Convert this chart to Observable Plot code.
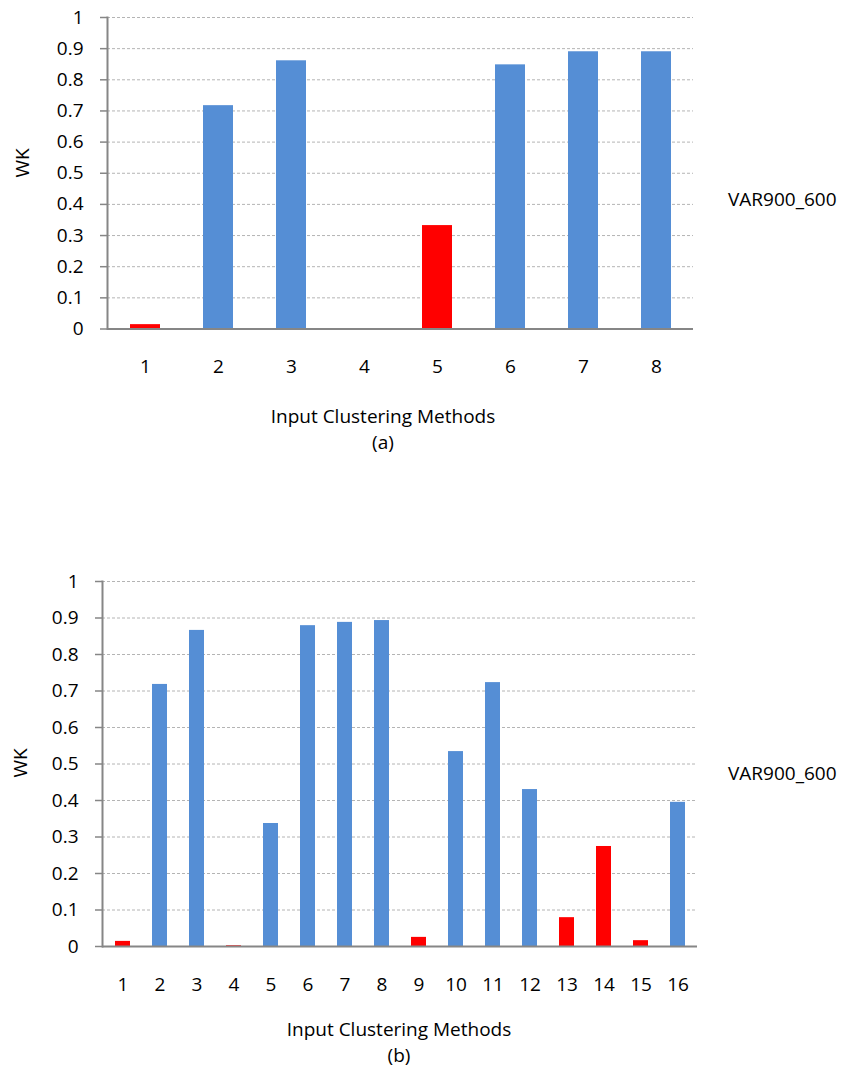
<!DOCTYPE html>
<html>
<head>
<meta charset="utf-8">
<script src="https://cdn.jsdelivr.net/npm/d3@7"></script>
<script src="https://cdn.jsdelivr.net/npm/@observablehq/plot@0.6"></script>
<style>
  html, body { margin: 0; padding: 0; background: #fff; }
  #page { position: relative; width: 842px; height: 1068px; font-family: "Open Sans", sans-serif; color: #000; }
  .panel { position: absolute; left: 0; }
  .lbl { position: absolute; font-size: 19px; white-space: nowrap; line-height: 1; }
  .center { transform: translate(-50%, -50%); }
  .left { transform: translate(0, -50%); }
  .rot { transform: translate(-50%, -50%) rotate(-90deg); }
</style>
</head>
<body>
<div id="page"></div>
<script>
// Panel (a): eight input clustering methods
const methodsA = ["1", "2", "3", "4", "5", "6", "7", "8"];
const wkA = [0.014, 0.717, 0.861, 0, 0.332, 0.848, 0.89, 0.89];
const lowA = [true, false, false, true, true, false, false, false];

// Panel (b): sixteen input clustering methods
const methodsB = ["1", "2", "3", "4", "5", "6", "7", "8", "9", "10", "11", "12", "13", "14", "15", "16"];
const wkB = [0.014, 0.718, 0.866, 0.002, 0.337, 0.879, 0.888, 0.893, 0.025, 0.534, 0.723, 0.43, 0.079, 0.274, 0.016, 0.395];
const lowB = [true, false, false, true, false, false, false, false, true, false, false, false, true, true, true, false];

const yTicks = [0, 0.1, 0.2, 0.3, 0.4, 0.5, 0.6, 0.7, 0.8, 0.9, 1];
const gridTicks = [0.1, 0.2, 0.3, 0.4, 0.5, 0.6, 0.7, 0.8, 0.9, 1];
const seriesName = "VAR900_600";
const xTitle = "Input Clustering Methods";
const yTitle = "WK";

const BLUE = "#558ED5";
const RED = "#FF0000";
const AXIS = "#868686";

function panel({methods, values, low, top, height, mt, mb, ml, mr, gap, tickPadX}) {
  const data = methods.map((m, i) => ({method: m, wk: values[i], color: low[i] ? RED : BLUE}));
  const svg = Plot.plot({
    width: 842,
    height,
    marginTop: mt,
    marginBottom: mb,
    marginLeft: ml,
    marginRight: mr,
    style: {fontFamily: "Open Sans, sans-serif", fontSize: "19px", background: "transparent", color: "#000"},
    // each bar sits centred in an equal slot along the axis
    x: {domain: methods, paddingInner: gap, paddingOuter: gap / 2, label: null},
    y: {domain: [0, 1], label: null},
    marks: [
      Plot.gridY(gridTicks, {stroke: "#b4b4b4", strokeOpacity: 1, strokeWidth: 1, strokeDasharray: "3,2"}),
      Plot.barY(data, {x: "method", y: "wk", fill: "color"}),
      Plot.axisY({ticks: yTicks, tickSize: 7, tickPadding: 17, stroke: AXIS, strokeWidth: 1.5, label: null,
                  tickFormat: d => String(d), fill: "#000"}),
      Plot.axisX({tickSize: 0, tickPadding: tickPadX, label: null, fill: "#000"}),
      Plot.frame({anchor: "left", stroke: AXIS, strokeWidth: 2}),
      Plot.ruleY([0], {stroke: AXIS, strokeWidth: 2})
    ]
  });
  svg.classList.add("panel");
  svg.style.top = top + "px";
  return svg;
}

const page = document.getElementById("page");

page.appendChild(panel({
  methods: methodsA, values: wkA, low: lowA,
  top: 0, height: 380, mt: 17, mb: 51.5, ml: 107, mr: 149, gap: 0.59, tickPadX: 30
}));

page.appendChild(panel({
  methods: methodsB, values: wkB, low: lowB,
  top: 560, height: 440, mt: 21, mb: 54, ml: 102, mr: 145, gap: 0.6, tickPadX: 30.5
}));

function label(text, x, y, cls) {
  const d = document.createElement("div");
  d.className = "lbl " + cls;
  d.style.left = x + "px";
  d.style.top = y + "px";
  d.textContent = text;
  page.appendChild(d);
}

// titles and series names for panel (a)
label(yTitle, 22, 163, "rot");
label(xTitle, 383, 416, "center");
label("(a)", 383, 442, "center");
label(seriesName, 728, 199, "left");

// titles and series names for panel (b)
label(yTitle, 20, 763, "rot");
label(xTitle, 399, 1029, "center");
label("(b)", 399, 1055, "center");
label(seriesName, 728, 773, "left");
</script>
</body>
</html>
